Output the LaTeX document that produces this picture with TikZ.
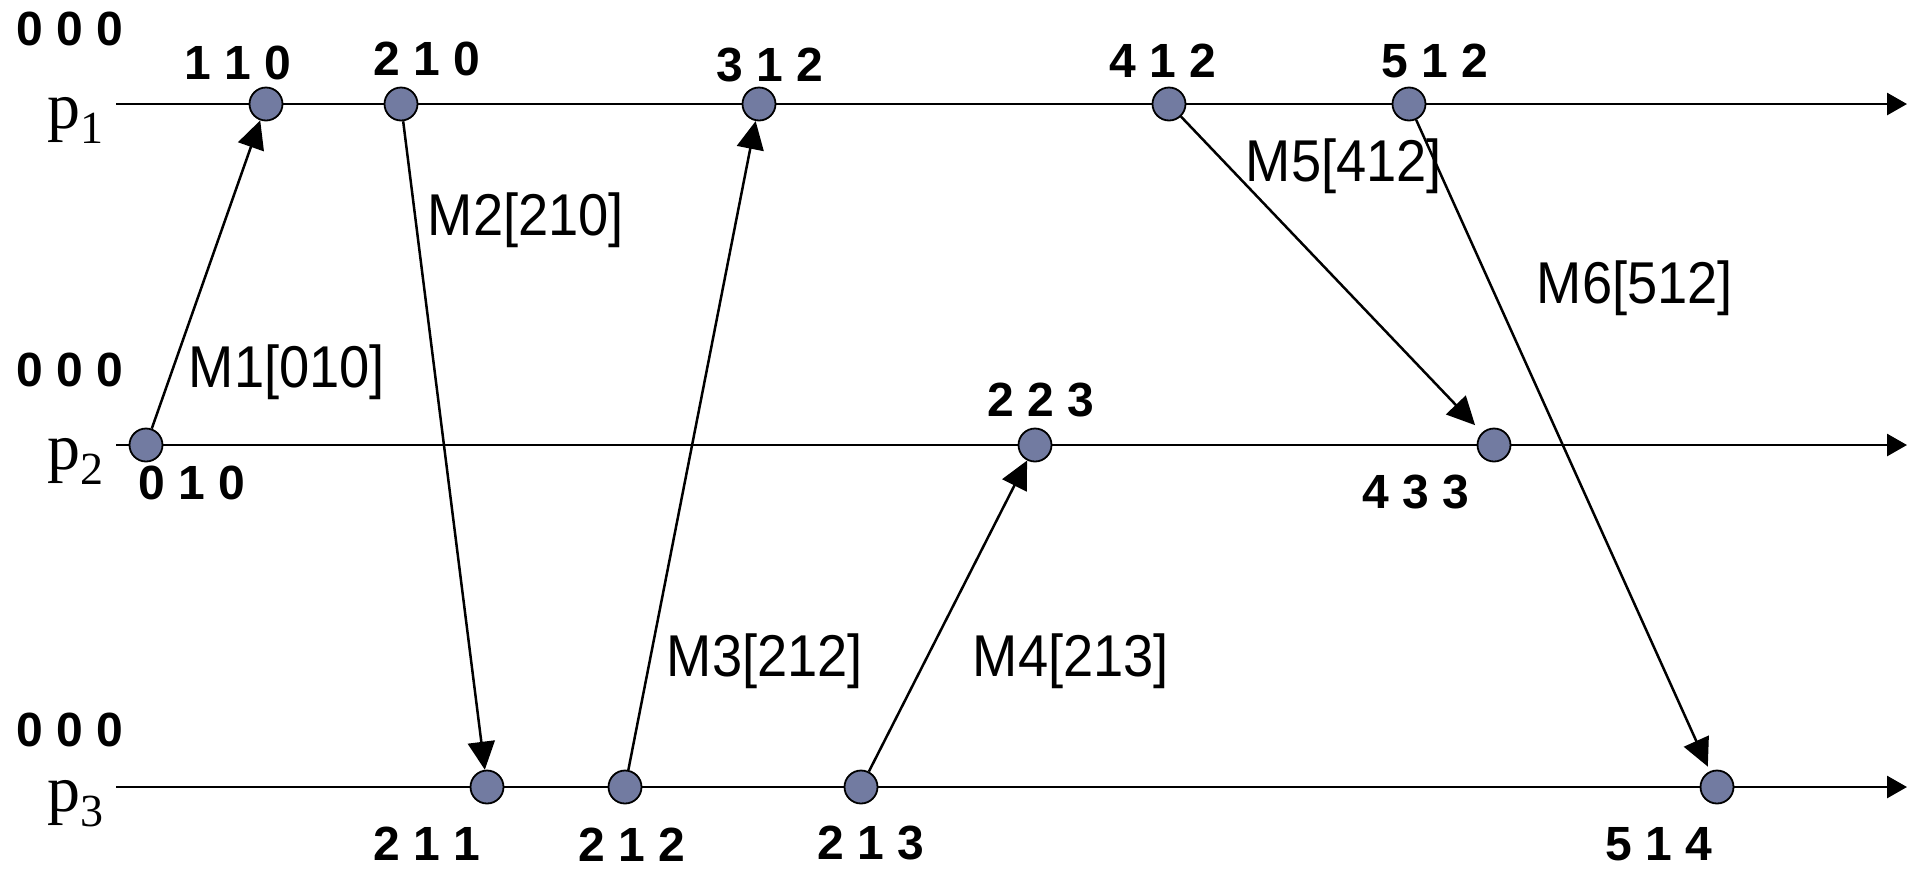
\documentclass[tikz,border=0pt]{standalone}
\usepackage{fontspec}
\newfontfamily\lsans{Liberation Sans}
\newfontfamily\lsanscond{Liberation Sans}[FakeStretch=0.92]
\newfontfamily\lserif{Liberation Serif}
\usetikzlibrary{arrows.meta}
\definecolor{dotcol}{RGB}{114,123,161}
\begin{document}
\begin{tikzpicture}[x=1pt,y=-1pt,
  evt/.style={circle,draw=black,line width=1.8pt,fill=dotcol,minimum size=33pt,inner sep=0pt},
  vc/.style={inner sep=0pt,font=\lsans\bfseries\fontsize{48}{48}\selectfont},
  ml/.style={inner sep=0pt,font=\lsanscond\fontsize{59}{59}\selectfont},
  pl/.style={inner sep=0pt,font=\lserif\fontsize{66}{66}\selectfont},
  axis/.style={line width=2.8pt,-{Triangle[length=20pt,width=22pt]}},
  msg/.style={line width=2.5pt,-{Triangle[length=28pt,width=27pt]}}]
\useasboundingbox (0,0) rectangle (1913,871);
\fill[white] (0,0) rectangle (1913,871);
% process lines
\coordinate (s1) at (116,104); \coordinate (e1) at (1907,104);
\coordinate (s2) at (116,445); \coordinate (e2) at (1907,445);
\coordinate (s3) at (116,787); \coordinate (e3) at (1907,787);
\draw[axis] (s1) -- (e1);
\draw[axis] (s2) -- (e2);
\draw[axis] (s3) -- (e3);
% process names
\node[pl,anchor=base west] (p1) at (47,128) {p\raisebox{-15pt}{\fontsize{46}{46}\selectfont 1}};
\node[pl,anchor=base west] (p2) at (47,469) {p\raisebox{-15pt}{\fontsize{46}{46}\selectfont 2}};
\node[pl,anchor=base west] (p3) at (47,811) {p\raisebox{-15pt}{\fontsize{46}{46}\selectfont 3}};
% events
\node[evt] (a110) at (266,104) {};
\node[evt] (a210) at (401,104) {};
\node[evt] (a312) at (759,104) {};
\node[evt] (a412) at (1169,104) {};
\node[evt] (a512) at (1409,104) {};
\node[evt] (b010) at (146,445) {};
\node[evt] (b223) at (1035,445) {};
\node[evt] (b433) at (1494,445) {};
\node[evt] (c211) at (487,787) {};
\node[evt] (c212) at (625,787) {};
\node[evt] (c213) at (861,787) {};
\node[evt] (c514) at (1717,787) {};
% messages
\draw[msg] (b010) -- (a110);
\draw[msg] (a210) -- (c211);
\draw[msg] (c212) -- (a312);
\draw[msg] (c213) -- (b223);
\draw[msg,shorten >=10pt] (a412) -- (b433);
\draw[msg,shorten >=5pt] (a512) -- (c514);
% vector clocks
\node[vc] (v0a) at (70,29) {0 0 0};
\node[vc] (v110) at (238,63) {1 1 0};
\node[vc] (v210) at (427,59) {2 1 0};
\node[vc] (v312) at (770,65) {3 1 2};
\node[vc] (v412) at (1163,61) {4 1 2};
\node[vc] (v512) at (1435,61) {5 1 2};
\node[vc] (v0b) at (70,370) {0 0 0};
\node[vc] (v010) at (192,483) {0 1 0};
\node[vc] (v223) at (1041,400) {2 2 3};
\node[vc] (v433) at (1416,492) {4 3 3};
\node[vc] (v0c) at (70,730) {0 0 0};
\node[vc] (v211) at (427,844) {2 1 1};
\node[vc] (v212) at (632,845) {2 1 2};
\node[vc] (v213) at (871,843) {2 1 3};
\node[vc] (v514) at (1659,844) {5 1 4};
% message labels
\node[ml] (m1) at (287,372) {M1[010]};
\node[ml] (m2) at (526,220) {M2[210]};
\node[ml] (m3) at (765,661) {M3[212]};
\node[ml] (m4) at (1071,661) {M4[213]};
\node[ml] (m5) at (1344,166) {M5[412]};
\node[ml] (m6) at (1635,288) {M6[512]};
\end{tikzpicture}
\end{document}
